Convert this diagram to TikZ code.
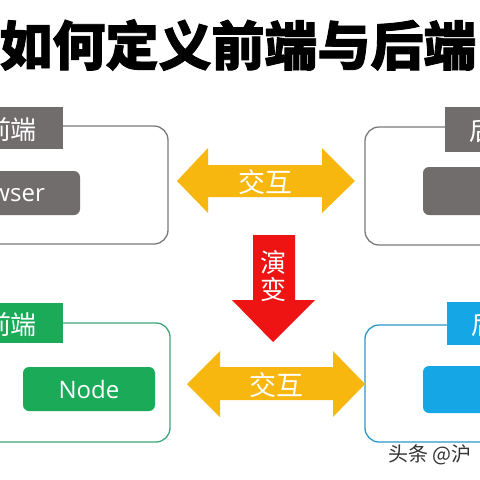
\documentclass[tikz,border=0pt]{standalone}
\usepackage{fontspec}
\setmainfont{Open Sans}
\newfontfamily\cjk{Noto Sans CJK SC}[BoldFeatures={FakeBold=1.6}]
\definecolor{boxgray}{HTML}{716D6D}
\definecolor{linegray}{HTML}{7A7A7A}
\definecolor{ygreen}{HTML}{1BAA58}
\definecolor{lgreen}{HTML}{3DA67A}
\definecolor{yblue}{HTML}{15A6E6}
\definecolor{lblue}{HTML}{2C98C8}
\definecolor{yarrow}{HTML}{F8B70F}
\definecolor{rarrow}{HTML}{EE1414}
\tikzset{
  outerbox/.style={draw, line width=1.3pt, rounded corners=14pt},
  innerbox/.style={fill, rounded corners=6pt},
  lbl/.style={text=white, inner sep=0pt, font=\cjk\fontsize{26}{26}\selectfont},
  en/.style={text=white, inner sep=0pt, font=\fontsize{24}{24}\selectfont},
  arrtext/.style={text=white, inner sep=0pt, font=\cjk\fontsize{27}{27}\selectfont},
}
\begin{document}
\begin{tikzpicture}[x=1pt, y=-1pt]
\useasboundingbox (0,0) rectangle (480,480);
\clip (0,0) rectangle (480,480);
\fill[white] (0,0) rectangle (480,480);
% title
\node[inner sep=0pt, font=\cjk\bfseries\fontsize{53}{53}\selectfont] (title) at (238,45) {如何定义前端与后端};
% top-left
\draw[outerbox, linegray] (-40,126) rectangle (168,244);
\fill[boxgray] (-40,107) rectangle (63,149);
\node[lbl] (tlt) at (11,130) {前端};
\fill[innerbox, boxgray] (-40,171) rectangle (80,215);
\node[en, anchor=east] (browser) at (45,193) {Browser};
% top-right
\draw[outerbox, linegray] (365,127) rectangle (530,245);
\fill[boxgray] (445,107) rectangle (530,152);
\node[lbl, anchor=west] (trt) at (469,131) {后端};
\fill[innerbox, boxgray] (423,167) rectangle (530,215);
% top arrow
\fill[yarrow] (177,181) -- (208,148) -- (208,165) -- (322,165) -- (322,148) -- (355,181) -- (322,213) -- (322,197) -- (208,197) -- (208,213) -- cycle;
\node[arrtext] (ta) at (265,182) {交互};
% red arrow
\fill[rarrow] (253,235) -- (295,235) -- (295,300) -- (315,300) -- (273,342) -- (232,300) -- (253,300) -- cycle;
\node[arrtext, font=\cjk\fontsize{26}{26}\selectfont] (ra1) at (273,262) {演};
\node[arrtext, font=\cjk\fontsize{26}{26}\selectfont] (ra2) at (273,290) {变};
% bottom-left
\draw[outerbox, lgreen] (-40,323) rectangle (170,442);
\fill[ygreen] (-40,303) rectangle (63,343);
\node[lbl] (blt) at (11,325) {前端};
\fill[innerbox, ygreen] (23,367) rectangle (155,411);
\node[en] (node) at (89,389) {Node};
% bottom-right
\draw[outerbox, lblue] (365,325) rectangle (530,442);
\fill[yblue] (447,302) rectangle (530,345);
\node[lbl, anchor=west] (brt) at (471,325) {后端};
\fill[innerbox, yblue] (423,366) rectangle (530,413);
% bottom arrow
\fill[yarrow] (187,384) -- (220,351) -- (220,367) -- (333,367) -- (333,351) -- (365,384) -- (333,417) -- (333,400) -- (220,400) -- (220,417) -- cycle;
\node[arrtext] (ba) at (276,385) {交互};
% watermark
\node[anchor=west, inner sep=0pt, text=black!80, font=\cjk\fontsize{20}{20}\selectfont] (wm) at (388,455) {头条 @沪};
\end{tikzpicture}
\end{document}
